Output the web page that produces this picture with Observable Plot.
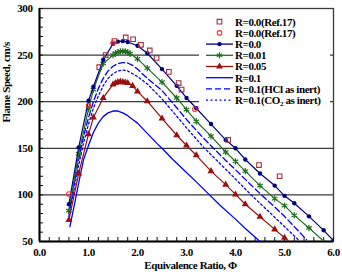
<!DOCTYPE html>
<html>
<head>
<meta charset="utf-8">
<script src="https://cdn.jsdelivr.net/npm/d3@7"></script>
<script src="https://cdn.jsdelivr.net/npm/@observablehq/plot@0.6"></script>
<style>
  html, body { margin: 0; padding: 0; background: #fff; }
  #chart { position: relative; width: 342px; height: 275px; }
  #legend { position: absolute; left: 199px; top: 10px; }
</style>
</head>
<body>
<div id="chart"></div>
<script>
// Laminar flame speed vs equivalence ratio for several inhibitor loadings R.

// R = 0.0 (computed, circles)
const phiR0 = [0.6, 0.8, 1.0, 1.1, 1.3, 1.5, 1.6, 1.7, 1.8, 2.0, 2.2, 2.5, 2.8, 3.0, 3.2, 3.5, 3.8, 4.0, 4.2, 4.5, 4.8, 5.0, 5.2, 5.5, 5.8, 6.0];
const suR0  = [90, 151, 201, 216, 245, 262, 264.5, 265, 264, 260, 252, 235, 217, 204, 193, 176, 159, 150, 138, 123, 110, 99, 91, 77, 62, 51];

// R = 0.01 (stars)
const phiR001 = [0.6, 0.8, 1.0, 1.1, 1.3, 1.5, 1.55, 1.6, 1.65, 1.7, 1.75, 1.8, 1.85, 2.0, 2.2, 2.5, 2.8, 3.0, 3.2, 3.5, 3.8, 4.0, 4.2, 4.5, 4.8, 5.0, 5.2, 5.5, 6.0];
const suR001  = [83, 144, 192, 213, 241, 250, 252, 253, 254, 254, 254, 253, 251.5, 246, 236, 221, 204, 191.5, 179, 163, 146, 136, 125.5, 110, 96, 88.5, 78, 64.5, 41];

// R = 0.05 (triangles)
const phiR005 = [0.6, 0.8, 1.0, 1.1, 1.3, 1.5, 1.55, 1.6, 1.65, 1.7, 1.75, 1.8, 1.9, 2.0, 2.2, 2.5, 2.8, 3.0, 3.2, 3.5, 3.8, 4.0, 4.2, 4.5, 4.8, 5.0, 5.2];
const suR005  = [73, 123, 165, 183, 204, 218.5, 220, 221, 221.5, 221, 220.5, 220, 217, 211, 200.5, 182, 164, 153, 142.5, 125.5, 111, 100.5, 90, 76.5, 63, 54, 45];

// R = 0.1 (solid line)
const phiR01 = [0.62, 0.73, 0.8, 0.9, 1.0, 1.1, 1.2, 1.3, 1.4, 1.5, 1.6, 1.7, 1.8, 1.9, 2.0, 2.2, 2.4, 2.5, 2.7, 3.0, 3.2, 3.47, 3.7, 4.0, 4.2, 4.5];
const suR01  = [66, 94, 113, 138, 153, 167, 177, 184, 188, 190, 190, 188, 185, 181, 177, 166, 155, 150, 139, 124, 114, 100, 88, 74, 64, 50];

// R = 0.1 with HCl as inert (dashed)
const phiHCl = [0.6, 0.7, 0.8, 0.9, 1.0, 1.1, 1.2, 1.3, 1.4, 1.5, 1.6, 1.7, 1.8, 1.9, 2.0, 2.2, 2.5, 2.8, 3.0, 3.3, 3.55, 3.8, 4.0, 4.3, 4.55, 4.8, 5.0, 5.2, 5.45];
const suHCl  = [80, 110, 138, 163, 183, 200, 214, 225, 233, 238, 241, 242, 241.5, 239, 235, 225, 212, 193.5, 181, 163.5, 150, 137, 127, 111.5, 99, 87, 77, 66, 52];

// R = 0.1 with CO2 as inert (dotted)
const phiCO2 = [0.6, 0.7, 0.8, 0.9, 1.0, 1.1, 1.2, 1.3, 1.4, 1.5, 1.6, 1.7, 1.8, 1.9, 2.0, 2.2, 2.5, 2.8, 3.0, 3.35, 3.6, 3.8, 4.0, 4.3, 4.6, 4.8, 5.0, 5.3];
const suCO2  = [77, 105, 132, 156, 176, 193, 206, 217, 225, 230, 233, 234, 233, 230, 227, 219, 203, 184.5, 172, 151, 138, 127.5, 117, 101, 86, 76, 66, 51];

// Ref. 17 measurements
const phiRefSq = [1.22, 1.35, 1.53, 1.76, 1.91, 2.07, 2.25, 2.39, 2.64, 2.84, 2.9, 3.85, 4.48, 4.9];
const suRefSq  = [237, 250, 265, 269, 267, 261, 255, 247, 232, 220, 213, 159, 132, 120];
const phiRefCi = [0.6, 1.0, 1.5, 3.17];
const suRefCi  = [101, 196, 263, 192];

// Axis ticks and labels
const xMajor = [0, 1, 2, 3, 4, 5, 6];
const xMinor = d3.range(0, 30.5, 1).map(i => i / 5);
const yMajor = [50, 100, 150, 200, 250, 300];
const yMinor = d3.range(50, 301, 10);
const yGrid = [100, 150, 200, 250];

const xTitle = "Equivalence Ratio, \u03A6";
const yTitle = "Flame Speed, cm/s";

const C = {
  navy: "#000080",
  green: "#1f6e1f",
  red: "#9b0f0f",
  blue: "#0000ff",
  square: "#a0303a",
  circle: "#ff2a2a"
};

const rows = (phi, su) => phi.map((p, i) => ({phi: p, su: su[i]}));
const dR0 = rows(phiR0, suR0);
const dR001 = rows(phiR001, suR001);
const dR005 = rows(phiR005, suR005);
const dR01 = rows(phiR01, suR01);
const dHCl = rows(phiHCl, suHCl);
const dCO2 = rows(phiCO2, suCO2);
const dSq = rows(phiRefSq, suRefSq);
const dCi = rows(phiRefCi, suRefCi);

const xy = {x: "phi", y: "su", clip: true};

const chart = Plot.plot({
  width: 342,
  height: 275,
  marginLeft: 39,
  marginRight: 9,
  marginTop: 8,
  marginBottom: 34,
  x: {domain: [0, 6]},
  y: {domain: [50, 300]},
  style: {
    fontFamily: "'Liberation Serif', 'Times New Roman', serif",
    fontSize: "11px",
    fontWeight: "bold",
    letterSpacing: "-0.4px",
    color: "#000",
    background: "#fff"
  },
  marks: [
    Plot.gridY(yGrid, {stroke: "#3a3a3a", strokeOpacity: 1, strokeWidth: 1.3}),
    Plot.frame({stroke: "#3a3a3a", strokeWidth: 1.3}),
    // inward tick marks
    Plot.axisY(yMinor, {tickSize: 4, dx: 4, fill: "none", stroke: "#111", label: null}),
    Plot.axisX(xMinor, {tickSize: 4, dy: -4, fill: "none", stroke: "#111", label: null}),
    // tick labels
    Plot.axisY(yMajor, {tickSize: 0, tickPadding: 7, label: null, fill: "#000"}),
    Plot.axisX(xMajor, {tickSize: 0, tickPadding: 6.5, tickFormat: d => d.toFixed(1), label: null, fill: "#000"}),
    // axis lines
    Plot.ruleX([0], {stroke: "#000", strokeWidth: 2}),
    Plot.ruleY([50], {stroke: "#000", strokeWidth: 2}),

    // series
    Plot.line(dR01, {...xy, stroke: C.blue, strokeWidth: 1.3}),
    Plot.line(dCO2, {...xy, stroke: C.blue, strokeWidth: 1.3, strokeDasharray: "2,2.5"}),
    Plot.line(dHCl, {...xy, stroke: C.blue, strokeWidth: 1.3, strokeDasharray: "6,3"}),
    Plot.line(dR005, {...xy, stroke: C.red, strokeWidth: 1.2}),
    Plot.dot(dR005, {...xy, symbol: "triangle", r: 2.6, fill: C.red, stroke: "none"}),
    Plot.line(dR001, {...xy, stroke: C.green, strokeWidth: 1.2}),
    Plot.dot(dR001, {...xy, symbol: "asterisk", r: 3, stroke: C.green, strokeWidth: 1.2}),
    Plot.line(dR0, {...xy, stroke: C.navy, strokeWidth: 1.2}),
    Plot.dot(dR0, {...xy, symbol: "circle", r: 2.2, fill: C.navy, stroke: "none"}),
    Plot.dot(dSq, {...xy, symbol: "square", r: 2.6, fill: "none", stroke: C.square, strokeWidth: 1.1}),
    Plot.dot(dCi, {...xy, symbol: "circle", r: 2.2, fill: "none", stroke: C.circle, strokeWidth: 1.1}),

    // axis titles
    Plot.text([yTitle], {text: d => d, frameAnchor: "left", rotate: -90, dx: -33.5, dy: -2.5, fill: "#000"}),
    Plot.text([xTitle], {text: d => d, frameAnchor: "bottom", dy: 27, dx: 4, fill: "#000"})
  ]
});

const host = document.getElementById("chart");
host.appendChild(chart);

// Legend box
const legendItems = [
  {label: "R=0.0(Ref.17)", line: null, symbol: d3.symbolSquare, size: 22, fill: "none", stroke: C.square},
  {label: "R=0.0(Ref.17)", line: null, symbol: d3.symbolCircle, size: 16, fill: "none", stroke: C.circle},
  {label: "R=0.0", line: {stroke: C.navy}, symbol: d3.symbolCircle, size: 15, fill: C.navy, stroke: "none"},
  {label: "R=0.01", line: {stroke: C.green}, symbol: d3.symbolAsterisk, size: 28, fill: "none", stroke: C.green},
  {label: "R=0.05", line: {stroke: C.red}, symbol: d3.symbolTriangle, size: 21, fill: C.red, stroke: "none"},
  {label: "R=0.1", line: {stroke: C.blue}, symbol: null},
  {label: "R=0.1(HCl as inert)", line: {stroke: C.blue, dash: "6,3"}, symbol: null},
  {label: ["R=0.1(CO", "2", " as inert)"], line: {stroke: C.blue, dash: "2,2.5"}, symbol: null}
];

const lg = d3.select(host).append("svg")
  .attr("id", "legend")
  .attr("width", 131)
  .attr("height", 97)
  .style("font-family", "'Liberation Serif', 'Times New Roman', serif")
  .style("font-weight", "bold")
  .style("font-size", "11px")
  .style("letter-spacing", "-0.4px");

lg.append("rect").attr("width", 131).attr("height", 97).attr("fill", "#fff");

legendItems.forEach((it, i) => {
  const y = 11.7 + 11.2 * i;
  const g = lg.append("g");
  if (it.line) {
    g.append("line")
      .attr("x1", 7).attr("x2", 34).attr("y1", y).attr("y2", y)
      .attr("stroke", it.line.stroke).attr("stroke-width", 1.3)
      .attr("stroke-dasharray", it.line.dash || null);
  }
  if (it.symbol) {
    g.append("path")
      .attr("transform", `translate(20.5,${y})`)
      .attr("d", d3.symbol(it.symbol, it.size)())
      .attr("fill", it.fill).attr("stroke", it.stroke).attr("stroke-width", 1.1);
  }
  const t = g.append("text").attr("x", 36).attr("y", y).attr("dy", "0.35em").attr("fill", "#000");
  if (Array.isArray(it.label)) {
    t.append("tspan").text(it.label[0]);
    t.append("tspan").attr("font-size", "7px").attr("dy", 2).text(it.label[1]);
    t.append("tspan").attr("dy", -2).text(it.label[2]);
  } else {
    t.text(it.label);
  }
});
</script>
</body>
</html>
